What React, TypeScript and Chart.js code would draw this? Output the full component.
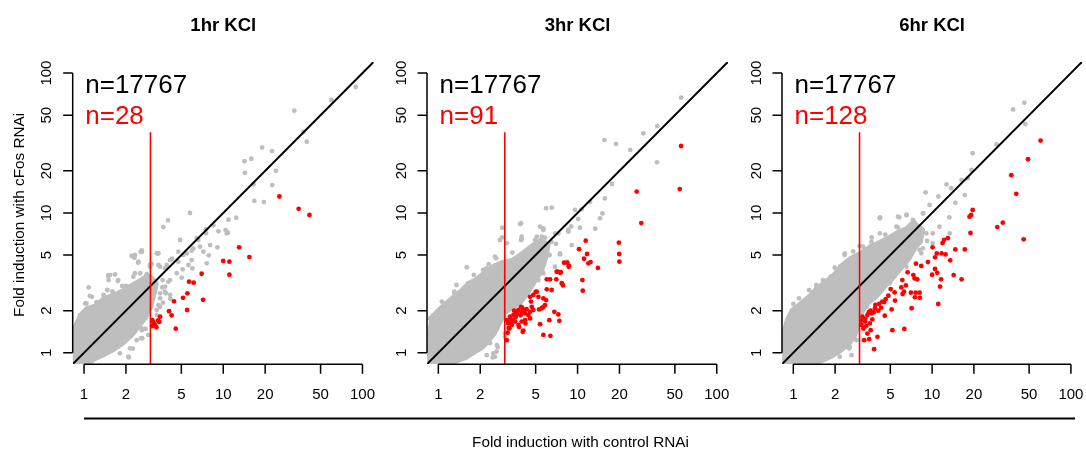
import React, { useEffect, useRef } from 'react';
import { Chart, registerables } from 'chart.js';

Chart.register(...registerables);

// ---------- data ----------
const panelTitles = ['1hr KCl', '3hr KCl', '6hr KCl'];
const totalLabels = ['n=17767', 'n=17767', 'n=17767'];
const redLabels = ['n=28', 'n=91', 'n=128'];
const tickValues = [1, 2, 5, 10, 20, 50, 100];
const tickLabels = ['1', '2', '5', '10', '20', '50', '100'];
const axisMin = 0.8318;
const axisMax = 120.2;
const identityLine = [0.5, 200];
const cutoffX = 3;
const cutoffSpan = [0.5, 37.7];
const labelX = 1.02;
const totalLabelY = 72.4;
const redLabelY = 43;
const yTitle = 'Fold induction with cFos RNAi';
const xTitle = 'Fold induction with control RNAi';

type P = [number, number];

// dense grey cores (outline of the point cloud)
const cloud1h: P[] = [
  [0.78, 0.78], [0.82, 1.0], [0.838, 1.45], [0.936, 1.86], [1.045, 2.08], [1.23, 2.19], [1.38, 2.45],
  [1.67, 2.63], [1.915, 2.81], [2.2, 3.05], [2.53, 3.31], [2.85, 3.59], [3.06, 3.46],
  [3.33, 3.14], [3.24, 2.73], [3.06, 2.2], [2.82, 1.81], [2.53, 1.58], [2.2, 1.32],
  [1.92, 1.17], [1.62, 1.04], [1.38, 0.96], [1.17, 0.887], [1.02, 0.78],
];
const cloud3h: P[] = [
  [0.78, 0.78], [0.82, 1.0], [0.848, 1.3], [0.897, 1.81], [1.0, 2.02], [1.12, 2.25], [1.28, 2.51],
  [1.47, 2.81], [1.64, 3.14], [1.89, 3.4], [2.17, 3.8], [2.55, 4.24], [2.93, 4.48], [3.37, 4.6],
  [3.97, 5.14], [4.56, 5.73], [5.4, 6.4], [6.2, 6.0], [6.0, 4.9], [5.53, 3.8], [4.95, 3.22], [4.31, 2.59],
  [3.86, 2.25], [3.37, 2.08], [3.01, 1.91], [2.77, 1.62], [2.55, 1.38], [2.29, 1.2], [2.05, 1.075],
  [1.78, 0.99], [1.56, 0.91], [1.32, 0.86], [1.12, 0.78],
];
const cloud6h: P[] = [
  [0.78, 0.78], [0.82, 1.1], [0.848, 1.38], [0.897, 1.71], [0.974, 2.02], [1.12, 2.25], [1.28, 2.51],
  [1.47, 2.89], [1.69, 3.22], [1.94, 3.59], [2.23, 4.24], [2.55, 4.73], [3.01, 5.14], [3.56, 5.73],
  [4.2, 6.22], [4.95, 6.76], [5.68, 7.34], [6.53, 7.76], [7.28, 8.6], [8.6, 7.6], [8.3, 6.2],
  [7.7, 5.73], [6.89, 4.73], [6.01, 4.02], [5.23, 3.4], [4.56, 2.94], [3.97, 2.51], [3.46, 2.25],
  [3.1, 1.91], [2.93, 1.53], [2.77, 1.3], [2.55, 1.17], [2.23, 1.04], [1.89, 0.936], [1.56, 0.86],
  [1.32, 0.82], [1.1, 0.78],
];

// individual grey genes outside the dense core
const grey1h: P[] = [
  [89.5, 79.5], [59.8, 64.2], [32.4, 53.8], [37.6, 37.9], [39.8, 32.3], [19.0, 29.3], [22.4, 27.7],
  [14.2, 23.4], [15.9, 24.4], [14.3, 19.3], [23.9, 20.0], [22.5, 15.8], [16.5, 16.0], [16.7, 12.2],
  [19.6, 11.96], [5.77, 9.98], [4.01, 8.84], [3.71, 7.92], [12.4, 9.24], [10.9, 8.94], [10.4, 7.54],
  [10.8, 7.22], [9.23, 7.38], [7.48, 7.62], [8.49, 8.15], [7.52, 7.14], [6.45, 6.61], [4.9, 6.4],
  [9.08, 5.67], [7.86, 4.97], [6.81, 5.73], [5.93, 5.37], [5.93, 4.6], [4.76, 5.28], [4.29, 4.7],
  [3.52, 4.12], [3.4, 5.13], [2.6, 5.4], [2.3, 4.78], [2.46, 4.48], [3.06, 4.31], [6.0, 4.01],
  [5.11, 3.95], [5.03, 3.44], [3.67, 3.31], [3.65, 2.93], [3.86, 2.66], [3.69, 2.28], [4.17, 2.43],
  [1.5, 3.31], [1.67, 3.63], [1.75, 3.26], [1.49, 3.54], [1.08, 2.93], [1.04, 2.25], [2.1, 0.926],
  [2.24, 1.07], [2.62, 1.27], [2.9, 1.34], [2.77, 1.48], [3.33, 5.14], [3.93, 4.24], [4.76, 4.48],
  [4.63, 3.7], [4.03, 3.22], [3.82, 2.73], [4.15, 2.59], [3.52, 2.45], [3.42, 2.19], [3.33, 2.02],
  [2.57, 1.27], [2.08, 0.936], [2.6, 1.45], [5.47, 5.14], [6.1, 5.58], [7.2, 5.28], [7.61, 4.36],
  [6.62, 6.4], [8.04, 5.89], [10.6, 7.14], [1.54, 3.59], [1.76, 3.31], [2.26, 3.5], [2.53, 3.7],
  [2.32, 5.0], [2.6, 5.28], [2.98, 4.24], [1.14, 2.51], [1.38, 2.59], [1.02, 2.25], [1.1, 2.55],
  [1.5, 3.59], [1.88, 3.0], [1.47, 2.81], [2.2, 4.92], [2.45, 4.4], [2.55, 5.28], [2.32, 3.7],
  [2.82, 3.64], [2.98, 4.12], [3.42, 5.14], [3.42, 4.24], [3.82, 4.02], [4.15, 4.6], [5.17, 5.0],
  [5.62, 4.24], [4.15, 3.31], [3.82, 2.97], [3.52, 2.66], [3.52, 2.13], [3.33, 1.86], [2.6, 1.49],
  [2.39, 1.23], [2.14, 1.075], [1.81, 0.99], [0.936, 1.86], [1.81, 2.66], [2.08, 2.81], [2.39, 2.97],
  [2.74, 3.22], [1.23, 2.3], [1.6, 2.75], [2.0, 3.0],
];
const grey3h: P[] = [
  [55.4, 66.7], [37.4, 41.8], [29.7, 37.1], [15.6, 33.2], [18.9, 31.1], [23.9, 28.2], [37.2, 23.0],
  [17.7, 16.1], [15.7, 12.7], [12.3, 12.0], [5.94, 10.8], [6.52, 10.9], [9.59, 10.5], [10.7, 10.6],
  [10.1, 9.04], [15.1, 9.92], [14.5, 9.14], [13.4, 7.71], [10.4, 7.84], [2.88, 7.84], [3.86, 8.32],
  [2.77, 6.4], [3.97, 6.47], [5.68, 7.54], [5.84, 6.65], [5.09, 6.76], [1.6, 4.08], [1.64, 3.1],
  [1.35, 3.05], [1.3, 2.67], [1.15, 2.19], [1.02, 2.02], [0.87, 1.76], [2.6, 4.73], [2.22, 4.01],
  [2.46, 0.926], [2.62, 1.02], [2.67, 1.1], [7.48, 5.05], [8.36, 4.48], [6.89, 7.14], [8.59, 7.34],
  [5.38, 7.96], [4.95, 6.4], [4.2, 5.14], [3.93, 6.4], [2.88, 6.69], [1.36, 2.66], [0.95, 1.86],
  [2.35, 1.17], [3.01, 1.3], [2.55, 0.936], [6.3, 5.0], [7.0, 6.0], [6.0, 5.5], [9.0, 8.0],
  [1.3, 2.73], [1.64, 3.14], [1.94, 3.4], [2.1, 3.91], [2.55, 4.86], [3.1, 6.06], [3.93, 8.43],
  [3.97, 6.76], [5.68, 7.76], [5.53, 6.76], [7.48, 5.14], [9.08, 5.89], [8.59, 7.55], [0.92, 1.86],
  [1.06, 2.32], [2.23, 0.96], [2.48, 0.99], [2.63, 1.135], [3.01, 1.38], [3.27, 2.19], [3.56, 2.38],
  [4.43, 3.05], [5.23, 3.31], [5.68, 3.7], [6.89, 4.12], [7.28, 7.14], [6.5, 6.2], [4.8, 4.3],
  [4.2, 3.8], [1.8, 3.6], [2.3, 4.3], [3.4, 5.2],
];
const grey6h: P[] = [
  [46.2, 61.4], [38.3, 55.0], [46.9, 43.2], [29.1, 30.9], [19.6, 26.7], [19.2, 20.3], [16.3, 17.2],
  [18.1, 17.7], [12.7, 16.0], [13.7, 15.0], [17.2, 13.4], [8.97, 14.0], [11.1, 13.1], [14.7, 11.8],
  [8.64, 9.92], [6.56, 9.66], [5.81, 9.29], [4.22, 9.29], [13.3, 9.29], [5.65, 7.88], [3.67, 6.68],
  [3.61, 5.79], [2.34, 5.0], [1.99, 4.06], [1.86, 3.5], [1.46, 3.01], [1.1, 2.45], [1.0, 2.23],
  [2.53, 1.07], [9.59, 11.4], [13.4, 7.14], [11.3, 7.96], [9.08, 7.14], [10.1, 6.06], [8.59, 5.58],
  [8.36, 5.14], [4.2, 7.14], [3.18, 5.73], [1.64, 3.31], [2.55, 1.1], [2.16, 0.936], [7.0, 7.5],
  [8.0, 6.5], [6.0, 6.0], [7.5, 8.5], [1.47, 3.05], [1.64, 3.22], [1.89, 3.5], [2.35, 5.14],
  [2.17, 4.12], [3.66, 6.22], [4.2, 9.14], [5.68, 9.39], [6.53, 9.66], [8.59, 9.93], [2.42, 1.1],
  [2.63, 0.96], [2.85, 1.23], [10.1, 7.14], [8.13, 5.43], [6.53, 4.12], [4.95, 3.14], [3.37, 2.13],
  [5.53, 7.96], [7.28, 8.9], [3.0, 5.8], [2.7, 5.3], [4.6, 7.0], [9.2, 6.3], [1.3, 2.8],
];

// genes induced > 3 fold and reduced by cFos RNAi
const red1h: P[] = [
  [25.3, 13.1], [34.8, 10.7], [41.6, 9.66], [13.0, 5.67], [15.4, 4.83], [10.0, 4.53], [11.07, 4.48],
  [11.07, 3.61], [7.0, 3.67], [5.68, 3.22], [6.13, 3.17], [7.16, 2.39], [5.53, 2.66], [5.14, 2.47],
  [4.43, 2.33], [5.5, 2.02], [4.08, 1.98], [4.26, 1.85], [4.56, 1.485], [3.1, 1.71], [3.08, 1.55],
  [3.31, 1.52], [3.52, 1.81], [3.47, 1.66], [3.24, 1.57], [3.15, 1.65], [3.2, 1.6], [3.4, 1.7],
];
const red3h: P[] = [
  [55.4, 30.1], [54.2, 14.8], [26.6, 14.2], [28.7, 8.46], [19.8, 6.12], [19.9, 5.08], [19.97, 4.48],
  [3.1, 1.71], [3.27, 1.81], [3.46, 1.86], [3.56, 1.96], [3.76, 2.02], [3.93, 2.13], [4.08, 2.02],
  [4.2, 1.91], [4.43, 1.86], [4.56, 1.96], [3.56, 1.67], [3.37, 1.58], [3.18, 1.62], [3.76, 1.58],
  [3.97, 1.67], [4.2, 1.71], [3.8, 1.53], [4.08, 1.44], [3.15, 1.39], [3.1, 1.23], [3.24, 1.49],
  [4.56, 1.76], [4.81, 2.02], [4.69, 2.13], [4.56, 2.51], [4.81, 2.59], [5.09, 2.73], [5.23, 2.51],
  [5.68, 2.45], [5.53, 2.08], [5.94, 2.38], [5.68, 2.13], [5.38, 1.6], [5.68, 1.34], [6.38, 1.32],
  [6.27, 1.71], [6.81, 1.96], [7.28, 1.88], [7.4, 1.69], [6.01, 2.84], [6.01, 3.35], [6.35, 3.35],
  [7.21, 3.8], [7.57, 3.77], [7.7, 3.14], [7.04, 3.35], [8.0, 4.4], [8.45, 4.4], [8.69, 4.17],
  [10.25, 5.5], [10.83, 3.31], [10.9, 2.78], [11.45, 6.33], [11.7, 5.08], [11.13, 4.7], [11.96, 4.36],
  [12.4, 4.45], [14.0, 4.04], [4.22, 1.62], [4.04, 1.41], [5.29, 2.04], [5.84, 2.19], [4.63, 2.32],
  [5.0, 2.72], [6.52, 2.81], [7.86, 3.03], [7.08, 3.8], [7.52, 3.73], [8.64, 4.12], [3.3, 1.75],
  [3.6, 1.8], [3.9, 1.85], [3.45, 1.7], [3.7, 1.9], [4.0, 1.95], [3.2, 1.5], [3.35, 1.66],
  [4.3, 2.05], [4.0, 2.1], [3.5, 2.0],
];
const red6h: P[] = [
  [60.5, 32.9], [49.1, 24.2], [37.2, 18.6], [40.4, 13.7], [45.7, 6.47], [32.3, 8.51], [29.5, 7.92],
  [19.6, 10.5], [19.1, 9.66], [18.6, 9.39], [18.9, 7.18], [17.2, 5.48], [14.7, 5.48], [16.3, 3.35],
  [14.3, 3.59], [13.5, 4.58], [13.0, 6.61], [12.2, 6.4], [11.9, 6.09], [10.08, 5.67], [10.8, 5.13],
  [11.7, 5.13], [12.5, 5.05], [10.5, 4.81], [10.5, 3.97], [10.9, 3.73], [10.0, 3.61], [11.6, 3.35],
  [11.4, 2.97], [11.07, 2.23], [9.33, 4.45], [8.35, 4.17], [7.65, 4.33], [6.66, 3.76], [7.32, 3.59],
  [7.48, 3.4], [7.82, 3.35], [6.48, 3.03], [7.04, 2.69], [7.61, 2.69], [8.13, 2.69], [7.52, 2.49],
  [8.17, 2.47], [7.12, 2.08], [6.1, 3.31], [6.0, 2.93], [6.27, 2.73], [6.13, 2.63], [5.37, 2.7],
  [5.03, 2.85], [4.84, 2.56], [4.63, 2.42], [5.11, 2.04], [5.41, 2.36], [4.38, 2.32], [4.15, 2.23],
  [3.88, 2.08], [4.56, 1.84], [5.17, 1.45], [6.31, 1.48], [3.82, 1.06], [4.04, 1.3], [3.15, 1.81],
  [3.42, 1.86], [3.67, 1.91], [3.29, 1.67], [3.56, 1.62], [3.71, 1.73], [3.2, 1.49], [3.42, 1.37],
  [3.24, 1.23], [3.52, 1.25], [3.1, 1.58], [3.61, 1.45], [4.1, 2.0], [3.3, 1.75], [3.5, 1.95],
  [3.8, 1.95], [3.35, 1.55], [3.1, 1.7], [3.9, 2.2], [4.3, 2.1], [4.5, 2.3], [3.6, 2.0],
];

const clouds = [cloud1h, cloud3h, cloud6h];
const greys = [grey1h, grey3h, grey6h];
const reds = [red1h, red3h, red6h];

// ---------- layout / style ----------
const W = 1086;
const H = 449;
const PLOT_LEFT = [72.9, 427.2, 782.2];
const PLOT_W = 300.7;
const PLOT_TOP = 61.9;
const PLOT_BOTTOM = 363.9;
const GREY = '#BEBEBE';
const RED = '#FF0000';
const DOT = 2.4;
const FONT = '"Liberation Sans", Arial, Helvetica, sans-serif';

const toXY = (arr: P[]) => arr.map(([x, y]) => ({ x, y }));

function makeDecor(idx: number) {
  return {
    id: 'panelDecor' + idx,
    afterDraw(chart: any) {
      const ctx: CanvasRenderingContext2D = chart.ctx;
      const xs = chart.scales.x;
      const ys = chart.scales.y;
      const area = chart.chartArea;
      ctx.save();
      ctx.strokeStyle = '#000';
      ctx.fillStyle = '#000';
      ctx.lineWidth = 1.5;
      ctx.lineCap = 'butt';
      // x axis
      const xb = area.bottom + 0.3;
      ctx.beginPath();
      ctx.moveTo(xs.getPixelForValue(tickValues[0]), xb);
      ctx.lineTo(xs.getPixelForValue(tickValues[tickValues.length - 1]), xb);
      tickValues.forEach((v) => {
        const px = xs.getPixelForValue(v);
        ctx.moveTo(px, xb);
        ctx.lineTo(px, xb + 9.5);
      });
      ctx.stroke();
      ctx.font = `15px ${FONT}`;
      ctx.textAlign = 'center';
      ctx.textBaseline = 'alphabetic';
      tickValues.forEach((v, i) => {
        ctx.fillText(tickLabels[i], xs.getPixelForValue(v), area.bottom + 34.6);
      });
      // y axis
      const yl = area.left - 0.2;
      ctx.beginPath();
      ctx.moveTo(yl, ys.getPixelForValue(tickValues[0]));
      ctx.lineTo(yl, ys.getPixelForValue(tickValues[tickValues.length - 1]));
      tickValues.forEach((v) => {
        const py = ys.getPixelForValue(v);
        ctx.moveTo(yl, py);
        ctx.lineTo(yl - 9.5, py);
      });
      ctx.stroke();
      tickValues.forEach((v, i) => {
        ctx.save();
        ctx.translate(area.left - 21.6, ys.getPixelForValue(v));
        ctx.rotate(-Math.PI / 2);
        ctx.fillText(tickLabels[i], 0, 0);
        ctx.restore();
      });
      // panel title
      ctx.font = `bold 18.5px ${FONT}`;
      ctx.fillText(panelTitles[idx], (area.left + area.right) / 2, 30.7);
      // counts
      ctx.textAlign = 'left';
      ctx.font = `26px ${FONT}`;
      ctx.fillStyle = '#000';
      ctx.fillText(totalLabels[idx], xs.getPixelForValue(labelX), ys.getPixelForValue(totalLabelY));
      ctx.fillStyle = RED;
      ctx.fillText(redLabels[idx], xs.getPixelForValue(labelX), ys.getPixelForValue(redLabelY));
      ctx.fillStyle = '#000';
      if (idx === 0) {
        // y title
        ctx.save();
        ctx.font = `15.3px ${FONT}`;
        ctx.textAlign = 'center';
        ctx.translate(23.8, (area.top + area.bottom) / 2 + 2);
        ctx.rotate(-Math.PI / 2);
        ctx.fillText(yTitle, 0, 0);
        ctx.restore();
        // shared x axis rule and title
        ctx.lineWidth = 2;
        ctx.beginPath();
        const x0 = xs.getPixelForValue(tickValues[0]);
        ctx.moveTo(x0, 418.6);
        ctx.lineTo(1075, 418.6);
        ctx.stroke();
        ctx.font = `15.3px ${FONT}`;
        ctx.textAlign = 'center';
        ctx.fillText(xTitle, (x0 + 1075) / 2 + 1, 446.7);
      }
      ctx.restore();
    },
  };
}

function Panel({ idx }: { idx: number }) {
  const ref = useRef<HTMLCanvasElement | null>(null);
  useEffect(() => {
    if (!ref.current) return;
    const left = PLOT_LEFT[idx];
    const chart = new Chart(ref.current, {
      type: 'scatter',
      data: {
        datasets: [
          {
            type: 'line',
            data: cutoffSpan.map((y) => ({ x: cutoffX, y })),
            borderColor: RED,
            borderWidth: 1.6,
            pointRadius: 0,
            fill: false,
          } as any,
          {
            data: toXY(reds[idx]),
            backgroundColor: RED,
            borderWidth: 0,
            pointRadius: DOT,
          },
          {
            type: 'line',
            data: identityLine.map((v) => ({ x: v, y: v })),
            borderColor: '#000',
            borderWidth: 2,
            pointRadius: 0,
            fill: false,
          } as any,
          {
            data: toXY(greys[idx]),
            backgroundColor: GREY,
            borderWidth: 0,
            pointRadius: DOT,
          },
          {
            type: 'line',
            data: toXY(clouds[idx]),
            borderColor: GREY,
            backgroundColor: GREY,
            borderWidth: 4,
            borderJoinStyle: 'round',
            pointRadius: 0,
            tension: 0,
            fill: 'shape',
          } as any,
        ],
      },
      options: {
        animation: false,
        responsive: false,
        events: [],
        layout: {
          padding: { left, right: W - (left + PLOT_W), top: PLOT_TOP, bottom: H - PLOT_BOTTOM },
        },
        scales: {
          x: { type: 'logarithmic', min: axisMin, max: axisMax, display: false },
          y: { type: 'logarithmic', min: axisMin, max: axisMax, display: false },
        },
        plugins: {
          legend: { display: false },
          tooltip: { enabled: false },
          title: { display: false },
        },
      },
      plugins: [makeDecor(idx)],
    });
    return () => chart.destroy();
  }, [idx]);
  return (
    <canvas
      ref={ref}
      width={W}
      height={H}
      style={{ position: 'absolute', left: 0, top: 0, width: W, height: H }}
    />
  );
}

export default function App() {
  return (
    <div style={{ position: 'absolute', left: 0, top: 0, width: W, height: H, background: '#fff', overflow: 'hidden' }}>
      {[0, 1, 2].map((i) => (
        <Panel key={i} idx={i} />
      ))}
    </div>
  );
}
